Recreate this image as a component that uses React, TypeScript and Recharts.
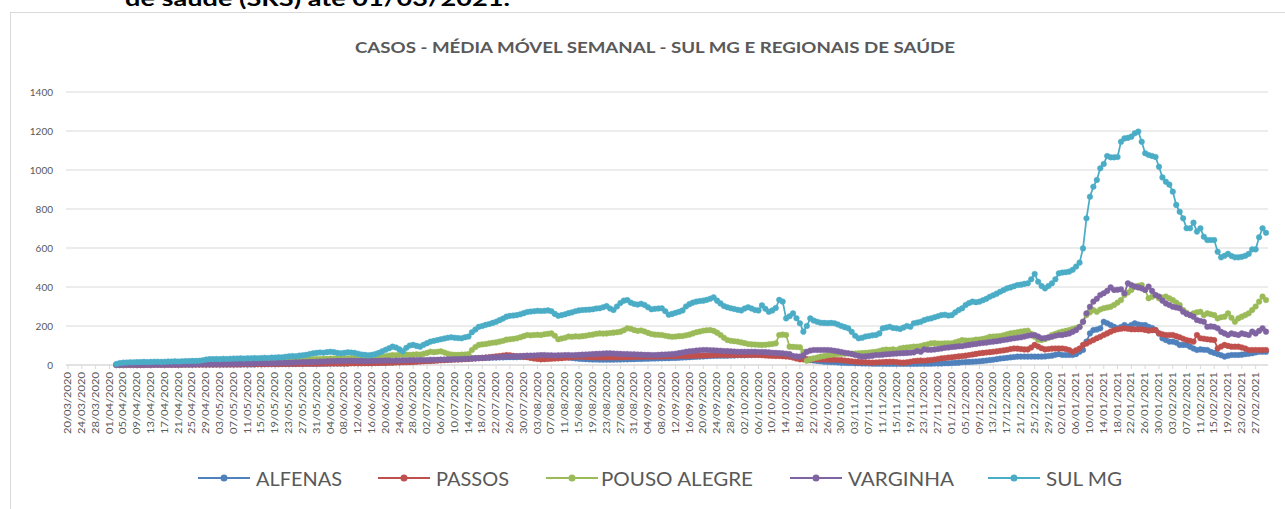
import React from "react";
import { LineChart, Line, XAxis, YAxis, CartesianGrid } from "recharts";

// daily series start on 03/04/2020 (day 14 of the axis)
const START_DAY = 14;
const DAY_COUNT = 348;

const Y_TICKS = [0, 200, 400, 600, 800, 1000, 1200, 1400];

const ALFENAS = [
  0, 0, 0, 0, 0, 0,
  0, 0, 0, 0, 0, 1, 1, 1, 1, 1,
  1, 1, 1, 1, 1, 1, 1, 2, 2, 2,
  2, 2, 2, 2, 2, 2, 2, 3, 3, 3,
  3, 3, 3, 3, 3, 4, 4, 4, 4, 4,
  4, 4, 5, 5, 5, 5, 5, 6, 6, 6,
  6, 6, 7, 7, 7, 7, 8, 8, 8, 8,
  8, 8, 9, 9, 9, 9, 10, 10, 10, 11,
  11, 12, 12, 13, 13, 14, 14, 15, 16, 16,
  17, 18, 19, 20, 21, 22, 23, 24, 25, 26,
  27, 28, 29, 30, 31, 32, 33, 34, 35, 36,
  36, 37, 37, 38, 38, 39, 39, 40, 40, 40,
  40, 41, 41, 42, 42, 43, 43, 44, 44, 44,
  44, 44, 43, 42, 40, 38, 36, 34, 32, 31,
  30, 29, 28, 28, 27, 27, 27, 27, 27, 28,
  28, 29, 29, 30, 30, 31, 31, 32, 32, 33,
  33, 34, 34, 35, 35, 36, 36, 37, 38, 39,
  40, 41, 42, 43, 44, 45, 46, 47, 47, 48,
  48, 48, 49, 49, 50, 50, 50, 51, 51, 52,
  52, 53, 53, 54, 54, 55, 55, 50, 46, 44,
  42, 40, 36, 32, 28, 25, 23, 21, 19, 17,
  16, 15, 14, 13, 12, 11, 10, 10, 9, 9,
  8, 8, 8, 7, 7, 7, 7, 6, 6, 6,
  6, 6, 6, 6, 6, 6, 6, 7, 7, 7,
  7, 8, 8, 8, 9, 9, 10, 11, 12, 14,
  15, 16, 17, 18, 19, 21, 23, 25, 27, 30,
  33, 35, 37, 39, 41, 43, 43, 43, 43, 43,
  43, 43, 43, 44, 46, 48, 52, 56, 51, 51,
  51, 51, 56, 68, 77, 120, 162, 179, 182, 188,
  222, 214, 205, 196, 188, 195, 205, 196, 205, 214,
  208, 205, 205, 196, 190, 179, 162, 137, 128, 120,
  120, 115, 103, 103, 103, 94, 85, 77, 80, 78,
  77, 68, 62, 56, 50, 43, 48, 51, 51, 51,
  53, 56, 58, 60, 64, 68, 68, 68,
];

const PASSOS = [
  0, 0, 0, 0, 0, 0,
  0, 0, 0, 1, 1, 1, 1, 1, 1, 1,
  1, 1, 1, 1, 2, 2, 2, 2, 2, 2,
  2, 2, 2, 3, 3, 3, 3, 3, 3, 3,
  3, 4, 4, 4, 4, 4, 4, 4, 5, 5,
  5, 5, 5, 5, 6, 6, 6, 6, 6, 7,
  7, 7, 7, 7, 8, 8, 8, 8, 8, 8,
  8, 8, 9, 9, 9, 9, 9, 9, 9, 10,
  10, 11, 11, 12, 12, 13, 13, 14, 14, 15,
  16, 17, 18, 19, 20, 21, 22, 23, 24, 25,
  26, 27, 28, 28, 29, 30, 31, 33, 34, 35,
  36, 38, 40, 42, 44, 46, 48, 51, 50, 47,
  45, 44, 43, 40, 36, 33, 31, 29, 30, 31,
  32, 33, 34, 35, 37, 38, 40, 42, 43, 42,
  41, 40, 40, 39, 39, 39, 39, 39, 39, 39,
  39, 40, 40, 41, 41, 42, 42, 42, 43, 43,
  43, 43, 44, 44, 45, 45, 45, 46, 46, 46,
  47, 47, 48, 48, 49, 49, 50, 50, 51, 51,
  51, 51, 51, 51, 51, 51, 51, 51, 51, 51,
  51, 50, 49, 48, 47, 46, 46, 45, 44, 43,
  38, 33, 29, 29, 29, 29, 29, 29, 29, 28,
  28, 27, 27, 26, 25, 23, 21, 19, 17, 16,
  15, 14, 13, 12, 13, 14, 15, 16, 17, 17,
  15, 13, 12, 14, 17, 20, 22, 23, 22, 24,
  26, 28, 31, 34, 36, 38, 40, 42, 44, 46,
  48, 51, 54, 57, 60, 62, 64, 66, 68, 70,
  73, 75, 78, 82, 85, 84, 82, 80, 80, 90,
  103, 95, 86, 80, 82, 84, 85, 85, 85, 82,
  77, 68, 76, 85, 103, 110, 120, 128, 137, 145,
  154, 162, 171, 178, 183, 186, 188, 186, 183, 183,
  183, 183, 180, 176, 178, 179, 162, 158, 154, 154,
  154, 148, 142, 135, 128, 124, 120, 154, 137, 135,
  132, 130, 128, 85, 95, 103, 98, 94, 94, 94,
  90, 85, 77, 77, 77, 77, 77, 77,
];

const POUSO_ALEGRE = [
  1, 2, 2, 3, 3, 3,
  4, 4, 4, 5, 5, 5, 6, 6, 6, 7,
  7, 7, 8, 8, 8, 9, 9, 10, 10, 11,
  11, 12, 12, 13, 13, 14, 14, 15, 15, 16,
  16, 17, 17, 18, 18, 19, 20, 20, 21, 22,
  22, 23, 24, 24, 25, 26, 26, 27, 28, 28,
  29, 30, 30, 31, 32, 32, 33, 33, 34, 34,
  35, 34, 36, 35, 34, 33, 34, 35, 36, 38,
  40, 42, 45, 48, 51, 50, 52, 51, 53, 52,
  53, 55, 53, 58, 62, 68, 66, 68, 70, 64,
  58, 54, 52, 52, 53, 54, 56, 77, 92, 103,
  106, 108, 111, 114, 116, 120, 124, 130, 132, 134,
  137, 142, 148, 154, 152, 154, 155, 154, 158, 160,
  162, 150, 132, 136, 140, 146, 145, 147, 146, 148,
  150, 154, 156, 160, 162, 161, 162, 164, 166, 168,
  171, 178, 188, 186, 179, 175, 177, 172, 165, 159,
  156, 155, 154, 150, 147, 145, 146, 148, 149, 152,
  156, 162, 168, 172, 176, 178, 179, 175, 166, 154,
  140, 128, 124, 122, 120, 116, 112, 108, 106, 105,
  104, 103, 104, 106, 108, 111, 154, 156, 154, 94,
  93, 92, 91, 68, 22, 30, 34, 38, 43, 46,
  50, 53, 56, 57, 58, 58, 59, 58, 59, 60,
  61, 62, 64, 66, 68, 72, 77, 79, 78, 80,
  77, 85, 88, 90, 92, 94, 94, 97, 102, 106,
  111, 112, 110, 110, 111, 111, 111, 116, 122, 128,
  126, 125, 127, 130, 131, 134, 138, 145, 146, 147,
  148, 152, 158, 162, 165, 168, 171, 174, 176, 160,
  145, 130, 128, 132, 140, 154, 160, 166, 171, 175,
  179, 185, 190, 196, 222, 256, 270, 282, 273, 285,
  291, 295, 299, 308, 320, 333, 359, 372, 385, 402,
  406, 410, 385, 342, 350, 359, 342, 346, 351, 342,
  333, 320, 308, 282, 268, 256, 265, 270, 273, 256,
  265, 260, 256, 239, 245, 248, 265, 242, 222, 239,
  248, 256, 265, 282, 300, 325, 351, 333,
];

const VARGINHA = [
  0, 0, 1, 1, 1, 1,
  1, 1, 2, 2, 2, 2, 2, 3, 3, 3,
  3, 3, 3, 4, 4, 4, 4, 4, 5, 5,
  5, 5, 5, 6, 6, 6, 6, 7, 7, 7,
  7, 8, 8, 8, 8, 9, 9, 9, 10, 10,
  10, 11, 11, 12, 12, 13, 14, 14, 15, 15,
  16, 16, 17, 18, 18, 19, 20, 20, 21, 21,
  21, 22, 22, 22, 21, 21, 20, 20, 21, 22,
  22, 22, 23, 23, 22, 23, 23, 24, 24, 25,
  25, 25, 26, 26, 26, 27, 27, 27, 28, 28,
  29, 29, 30, 30, 31, 32, 32, 33, 34, 35,
  36, 37, 38, 39, 40, 41, 42, 43, 43, 44,
  45, 46, 47, 48, 48, 49, 50, 51, 51, 50,
  50, 49, 50, 50, 51, 51, 50, 51, 52, 53,
  54, 55, 56, 57, 58, 59, 60, 60, 59, 58,
  57, 56, 56, 55, 55, 54, 53, 52, 52, 51,
  51, 52, 53, 54, 55, 56, 58, 61, 64, 68,
  70, 72, 74, 76, 77, 77, 76, 75, 74, 73,
  72, 71, 70, 69, 68, 68, 68, 68, 68, 68,
  67, 67, 66, 65, 63, 62, 61, 60, 58, 56,
  46, 44, 43, 50, 68, 74, 77, 77, 77, 77,
  77, 76, 73, 70, 67, 63, 60, 57, 51, 47,
  43, 44, 46, 48, 51, 51, 53, 55, 56, 58,
  59, 60, 61, 62, 63, 65, 72, 68, 80, 78,
  78, 80, 82, 85, 88, 90, 92, 94, 96, 97,
  100, 103, 106, 108, 111, 113, 115, 118, 120, 122,
  125, 128, 131, 134, 137, 140, 142, 146, 150, 152,
  154, 146, 137, 138, 142, 145, 150, 154, 154, 158,
  162, 170, 179, 195, 222, 265, 299, 325, 340, 359,
  368, 380, 398, 385, 386, 388, 368, 419, 410, 402,
  398, 393, 385, 402, 380, 359, 351, 330, 316, 308,
  299, 295, 291, 273, 262, 256, 248, 231, 226, 222,
  196, 198, 196, 188, 170, 162, 154, 162, 158, 154,
  162, 158, 154, 171, 162, 175, 188, 171,
];

const SUL_MG = [
  5, 10, 12, 13, 14, 14,
  15, 15, 16, 15, 16, 17, 17, 16, 17, 18,
  18, 19, 18, 19, 20, 20, 21, 21, 22, 24,
  28, 30, 30, 31, 30, 32, 31, 32, 33, 33,
  34, 33, 35, 34, 36, 35, 36, 37, 36, 38,
  38, 40, 39, 42, 44, 46, 45, 48, 50, 52,
  56, 60, 62, 64, 63, 66, 68, 66, 62, 60,
  62, 65, 64, 62, 58, 54, 52, 50, 52, 56,
  62, 70, 78, 86, 94, 90, 80, 70, 88, 100,
  103, 98, 94, 104, 112, 120, 124, 128, 132, 136,
  140, 142, 140, 138, 137, 142, 146, 168, 182, 196,
  200, 206, 210, 216, 222, 230, 238, 248, 252, 254,
  256, 260, 266, 272, 274, 276, 278, 277, 278, 280,
  276, 262, 252, 256, 260, 266, 270, 276, 280, 282,
  283, 284, 286, 290, 291, 296, 302, 290, 282, 300,
  318, 330, 333, 320, 313, 310, 314, 308, 296, 286,
  288, 290, 291, 276, 258, 262, 268, 273, 280, 300,
  312, 320, 325, 328, 330, 334, 340, 347, 330, 316,
  302, 296, 291, 287, 283, 280, 290, 296, 290, 282,
  280, 306, 288, 273, 280, 292, 334, 325, 239, 250,
  265, 240, 214, 171, 200, 239, 228, 222, 217, 216,
  215, 216, 214, 208, 200, 194, 188, 170, 150, 137,
  140, 146, 149, 152, 154, 162, 188, 192, 196, 190,
  188, 185, 192, 200, 196, 214, 218, 222, 230, 236,
  239, 245, 250, 256, 258, 254, 256, 270, 282, 291,
  308, 318, 325, 322, 325, 332, 340, 350, 358, 366,
  376, 384, 393, 398, 404, 410, 412, 416, 419, 440,
  467, 427, 405, 393, 405, 419, 440, 470, 474, 476,
  479, 488, 505, 525, 598, 752, 863, 914, 949, 1009,
  1031, 1072, 1065, 1065, 1067, 1145, 1162, 1165, 1171, 1188,
  1197, 1145, 1086, 1077, 1072, 1067, 1017, 962, 940, 925,
  889, 821, 786, 752, 701, 701, 730, 684, 701, 658,
  641, 641, 641, 581, 552, 560, 570, 559, 552, 552,
  555, 560, 570, 593, 593, 655, 701, 678,
];

const SERIES = [
  { key: "alfenas", name: "ALFENAS", color: "#4F81BD", values: ALFENAS },
  { key: "passos", name: "PASSOS", color: "#C0504D", values: PASSOS },
  { key: "pousoAlegre", name: "POUSO ALEGRE", color: "#9BBB59", values: POUSO_ALEGRE },
  { key: "varginha", name: "VARGINHA", color: "#8064A2", values: VARGINHA },
  { key: "sulMg", name: "SUL MG", color: "#4BACC6", values: SUL_MG },
];

// legend placement: [icon start, text start, text width]
const LEGEND_POS = [
  [198, 256, 86],
  [378, 436, 73],
  [546, 601, 152],
  [790, 848, 106],
  [988, 1046, 76],
];

function buildDates(): string[] {
  const out: string[] = [];
  const d = new Date(2020, 2, 20, 12);
  for (let i = 0; i < DAY_COUNT; i++) {
    const dd = String(d.getDate()).padStart(2, "0");
    const mm = String(d.getMonth() + 1).padStart(2, "0");
    out.push(`${dd}/${mm}/${d.getFullYear()}`);
    d.setDate(d.getDate() + 1);
  }
  return out;
}

const DATES = buildDates();

const data = DATES.map((date, i) => {
  const k = i - START_DAY;
  const row: Record<string, string | number | null> = { date };
  SERIES.forEach((s) => {
    row[s.key] = k >= 0 && k < s.values.length ? s.values[k] : null;
  });
  return row;
});

const FONT = "Lato, 'Open Sans', sans-serif";
const GREY = "#595959";

function DateTick({ x, y, payload }: any) {
  return (
    <text
      x={x}
      y={y}
      transform={`rotate(-90, ${x}, ${y})`}
      textAnchor="end"
      dy="0.35em"
      fontSize={9}
      fill={GREY}
      fontFamily={FONT}
      textLength={62}
      lengthAdjust="spacingAndGlyphs"
    >
      {payload.value}
    </text>
  );
}

export default function App() {
  return (
    <div
      style={{
        position: "absolute",
        left: 0,
        top: 0,
        width: 1285,
        height: 509,
        overflow: "hidden",
        background: "#ffffff",
      }}
    >
      <svg
        width={1285}
        height={509}
        style={{ position: "absolute", left: 0, top: 0 }}
      >
        <text
          x={125}
          y={6}
          fontSize={21}
          fontWeight={700}
          fill="#000000"
          fontFamily={FONT}
          textLength={385}
          lengthAdjust="spacingAndGlyphs"
        >
          de saúde (SRS) até 01/03/2021.
        </text>
        <rect
          x={10.5}
          y={12.5}
          width={1300}
          height={520}
          fill="none"
          stroke="#d9d9d9"
        />
        <text
          x={655}
          y={53}
          textAnchor="middle"
          fontSize={16}
          fontWeight={700}
          fill={GREY}
          fontFamily={FONT}
          textLength={600}
          lengthAdjust="spacingAndGlyphs"
        >
          CASOS - MÉDIA MÓVEL SEMANAL - SUL MG E REGIONAIS DE SAÚDE
        </text>
        {SERIES.map((s, i) => {
          const [ix, tx, tw] = LEGEND_POS[i];
          return (
            <g key={s.key}>
              <line x1={ix} x2={ix + 52} y1={478} y2={478} stroke={s.color} strokeWidth={2} />
              <circle cx={ix + 26} cy={478} r={3.5} fill={s.color} />
              <text
                x={tx}
                y={486}
                fontSize={20}
                fill={GREY}
                fontFamily={FONT}
                textLength={tw}
                lengthAdjust="spacingAndGlyphs"
              >
                {s.name}
              </text>
            </g>
          );
        })}
      </svg>
      <div style={{ position: "absolute", left: 0, top: 0 }}>
        <LineChart
          width={1285}
          height={509}
          data={data}
          margin={{ top: 92, right: 17, bottom: 64, left: 16 }}
        >
          <CartesianGrid vertical={false} stroke="#d9d9d9" strokeWidth={1} />
          <XAxis
            dataKey="date"
            interval={3}
            height={80}
            padding={{ left: 2, right: 2 }}
            axisLine={{ stroke: "#d9d9d9" }}
            tickLine={{ stroke: "#d9d9d9" }}
            tickSize={4}
            tickMargin={3}
            tick={<DateTick />}
          />
          <YAxis
            width={50}
            domain={[0, 1400]}
            ticks={Y_TICKS}
            axisLine={false}
            tickLine={false}
            tickMargin={7}
            tick={{ fontSize: 10, fill: GREY, fontFamily: FONT }}
          />
          {SERIES.map((s) => (
            <Line
              key={s.key}
              dataKey={s.key}
              name={s.name}
              stroke={s.color}
              strokeWidth={1.75}
              dot={{ r: 2.8, fill: s.color, stroke: s.color, strokeWidth: 0.5 }}
              activeDot={false}
              isAnimationActive={false}
            />
          ))}
        </LineChart>
      </div>
    </div>
  );
}
